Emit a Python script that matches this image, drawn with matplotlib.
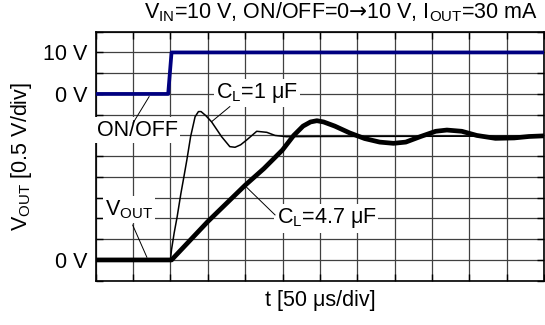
import matplotlib
matplotlib.use("Agg")
import numpy as np
from matplotlib import pyplot as plt

# 縦横とも 1 div 単位で読み取った値
onoff_t = [0.0, 1.94, 2.03, 12.0]
onoff_v = [9.0, 9.0, 11.0, 11.0]

cl1_t = [0.0, 2.0, 2.03, 2.1, 2.18, 2.28, 2.36, 2.44, 2.54, 2.66, 2.75, 2.82,
         2.95, 3.1, 3.37, 3.59, 3.73, 3.88, 4.04, 4.31, 4.58, 4.8, 5.1, 6.0, 12.0]
cl1_v = [1.0, 1.0, 1.5, 2.3, 3.08, 4.2, 5.0, 5.82, 6.94, 7.9, 8.15, 8.15,
         7.95, 7.66, 6.94, 6.46, 6.43, 6.55, 6.78, 7.2, 7.15, 7.0, 6.94, 6.95, 6.97]

cl47_t = [0.0, 2.0, 2.03, 3.0, 4.0, 4.5, 5.0, 5.3, 5.55, 5.75, 5.92, 6.1, 6.4,
          6.8, 7.2, 7.6, 7.97, 8.3, 8.7, 9.1, 9.4, 9.8, 10.2, 10.7, 11.2, 11.6, 12.0]
cl47_v = [1.0, 1.0, 1.0, 2.85, 4.6, 5.4, 6.3, 7.0, 7.45, 7.65, 7.71, 7.65, 7.45,
          7.12, 6.85, 6.68, 6.62, 6.68, 6.95, 7.2, 7.26, 7.2, 7.0, 6.86, 6.88, 6.95, 6.98]

ytick_pos = [1, 9, 11]
ytick_text = ["0 V", "0 V", "10 V"]

title = r"$\mathrm{V_{IN}}$=10 V, ON/OFF=0$\mathsf{→}$10 V, $\mathrm{I_{OUT}}$=30 mA"


def main():
    plt.rcParams["font.family"] = ["Liberation Sans", "DejaVu Sans"]
    plt.rcParams["mathtext.fontset"] = "custom"
    plt.rcParams["mathtext.rm"] = "Liberation Sans"
    plt.rcParams["mathtext.sf"] = "DejaVu Sans"
    plt.rcParams["font.size"] = 15.5

    fig = plt.figure(figsize=(5.45, 3.25), dpi=100)
    ax = fig.add_axes([0.1756, 0.1363, 0.8226, 0.7662])
    ax.set_xlim(0, 12)
    ax.set_ylim(0, 12)

    ax.set_xticks(np.arange(13))
    ax.set_yticks(np.arange(13))
    ax.set_xticklabels([])
    labels = [""] * 13
    for p, s in zip(ytick_pos, ytick_text):
        labels[p] = s
    ax.set_yticklabels(labels)
    ax.tick_params(direction="in", length=5, width=1, top=True, right=True, pad=6)
    ax.grid(True, color="#404040", linewidth=0.9)
    for s in ax.spines.values():
        s.set_linewidth(1.2)

    ax.plot(onoff_t, onoff_v, color="#000080", linewidth=2.7, zorder=4)
    ax.plot(cl1_t, cl1_v, color="black", linewidth=1.1, zorder=3)
    ax.plot(cl47_t, cl47_v, color="black", linewidth=3.4, zorder=4,
            solid_joinstyle="round")

    box = dict(facecolor="white", edgecolor="none", pad=1.5)
    ax.text(3.22, 9.03, r"$\mathrm{C_L}$=1 μF", ha="left", va="center", bbox=box, zorder=5)
    ax.plot([3.59, 3.10], [8.39, 7.66], color="black", linewidth=0.7, zorder=5)
    ax.text(0.03, 7.26, "ON/OFF", ha="left", va="center", bbox=box, zorder=5)
    ax.plot([1.0, 1.43], [7.6, 8.87], color="black", linewidth=0.7, zorder=5)
    ax.text(0.25, 3.41, r"$\mathrm{V_{OUT}}$", ha="left", va="center", bbox=box, zorder=5)
    ax.plot([0.99, 1.37], [2.68, 1.13], color="black", linewidth=0.7, zorder=5)
    ax.text(4.84, 3.0, r"$\mathrm{C_L}$=4.7 μF", ha="left", va="center", bbox=box, zorder=5)
    ax.plot([4.04, 4.8], [4.5, 3.17], color="black", linewidth=0.7, zorder=5)

    fig.text(0.987, 0.9615, title, ha="right", va="center")
    fig.text(0.039, 0.52, r"$\mathrm{V_{OUT}}$ [0.5 V/div]", rotation=90,
             ha="center", va="center")
    fig.text(0.587, 0.075, "t [50 μs/div]", ha="center", va="center")

    fig.savefig("out.png", dpi=100)


if __name__ == "__main__":
    main()
